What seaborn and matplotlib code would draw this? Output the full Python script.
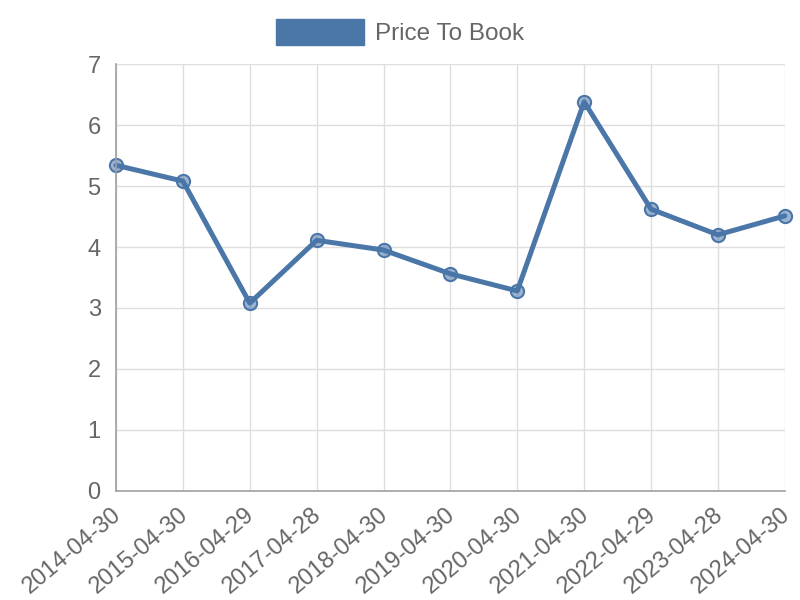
import matplotlib
matplotlib.use("Agg")
import matplotlib.pyplot as plt
import matplotlib.transforms as mtransforms
import seaborn as sns
import pandas as pd
import numpy as np

# ── Data ───────────────────────────────────────────────────────────────────────

dates = ["2014-04-30", "2015-04-30", "2016-04-29", "2017-04-28", "2018-04-30",
         "2019-04-30", "2020-04-30", "2021-04-30", "2022-04-29", "2023-04-28",
         "2024-04-30"]
price_to_book = [5.34, 5.08, 3.08, 4.11, 3.95, 3.56, 3.28, 6.38, 4.62, 4.20, 4.51]

df = pd.DataFrame({"date": dates, "value": price_to_book})
df["idx"] = np.arange(len(df))

LINE = "#4a76a8"
GRID = "#dedede"
AXIS = "#a0a0a0"
TEXT = "#666666"

sns.set_style("white")
plt.rcParams["font.family"] = ["Liberation Sans", "DejaVu Sans"]

fig = plt.figure(figsize=(8, 6), dpi=100)
ax = fig.add_axes([0.145, 0.1817, 0.836, 0.7116])

sns.lineplot(data=df, x="idx", y="value", ax=ax, color=LINE, linewidth=3.6,
             marker="o", markersize=9.5, markerfacecolor=(0.29, 0.46, 0.66, 0.55),
             markeredgecolor=LINE, markeredgewidth=1.5, label="Price To Book",
             legend=False)

ax.set_xlim(0, len(dates) - 1)
ax.set_ylim(0, 7)
ax.set_xticks(df["idx"])
ax.set_xticklabels(dates, rotation=40, ha="right", rotation_mode="anchor")
ax.set_yticks(range(0, 8))
ax.set_xlabel("")
ax.set_ylabel("")

ax.grid(True, color=GRID, linewidth=1)
ax.set_axisbelow(True)
for side in ["top", "right"]:
    ax.spines[side].set_visible(False)
for side in ["left", "bottom"]:
    ax.spines[side].set_color(AXIS)
    ax.spines[side].set_linewidth(1.2)
ax.tick_params(axis="both", length=8, color=GRID, labelcolor=TEXT, labelsize=17,
               pad=3)
ax.tick_params(axis="x", pad=1)

# nudge the rotated date labels a little left, like the reference
shift = mtransforms.ScaledTranslation(-5 / 100, 0, fig.dpi_scale_trans)
for lab in ax.get_xticklabels():
    lab.set_transform(lab.get_transform() + shift)

# legend: wide filled box like the reference
handle = plt.Rectangle((0, 0), 1, 1, color=LINE)
fig.legend([handle], ["Price To Book"], loc="upper center",
           bbox_to_anchor=(0.5, 1.005), frameon=False, fontsize=17.5,
           handlelength=3.6, handleheight=1.3, handletextpad=0.45,
           labelcolor=TEXT)

for line in ax.lines:
    line.set_clip_on(False)

fig.savefig("out.png", dpi=100)
